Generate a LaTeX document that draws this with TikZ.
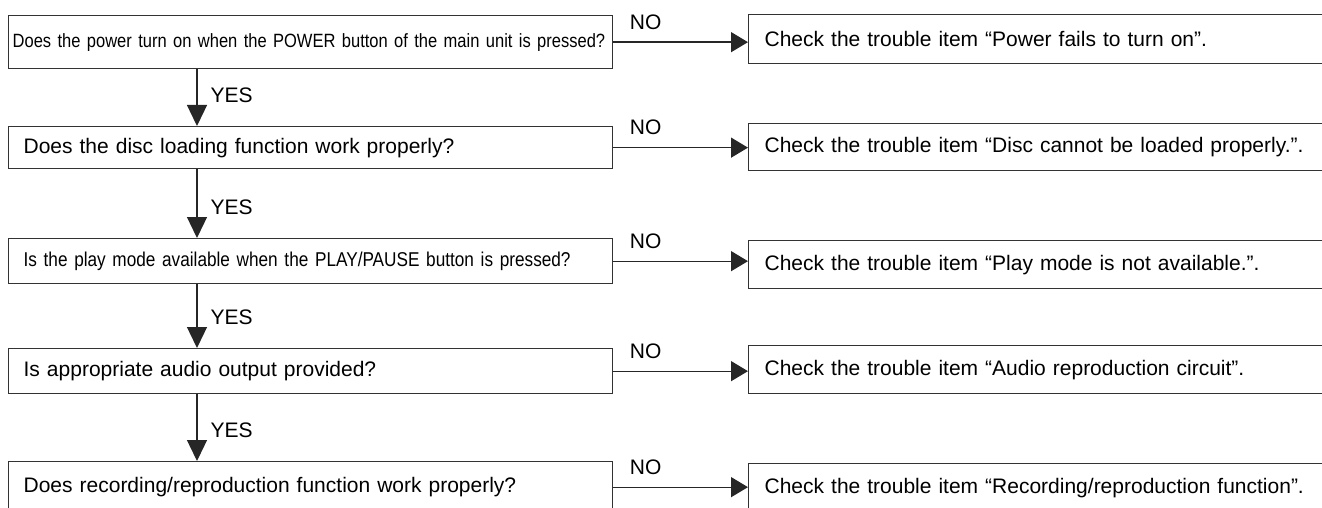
\documentclass[tikz,border=0pt]{standalone}
\usepackage{fontspec}
\setmainfont{Liberation Sans}
\newfontfamily\narrowsans[FakeStretch=0.86]{Liberation Sans}
\usetikzlibrary{arrows.meta}

\begin{document}
\begin{tikzpicture}[x=1pt, y=-1pt, font=\fontsize{21}{25}\selectfont,
    qbox/.style={draw=black!80, line width=1.3pt, anchor=north west,
      inner xsep=15pt, text width=574pt, align=left},
    abox/.style={draw=black!80, line width=1.3pt, anchor=north west,
      inner xsep=16pt, text width=543pt, align=left},
    narrow/.style={font=\narrowsans\fontsize{20}{24}\selectfont},
    flow/.style={draw=black!85, line width=1.3pt, -{Triangle[length=17pt, width=20pt]}},
    down/.style={draw=black!85, line width=1.3pt, -{Triangle[length=21pt, width=20pt]}},
    nolabel/.style={pos=0.24, yshift=20pt, inner sep=0pt},
    yeslabel/.style={pos=1, anchor=west, xshift=13pt, yshift=31pt, inner sep=0pt}]
  \useasboundingbox (0,0) rectangle (1322,508);
  % questions, left column
  \node[qbox, font=\narrowsans\fontsize{19.2}{23}\selectfont, minimum height=53pt,
    inner xsep=4pt, text width=596pt] (q1) at (8,15)
    {Does the power turn on when the POWER button of the main unit is pressed?};
  \node[qbox, minimum height=42pt] (q2) at (8,126) {Does the disc loading function work properly?};
  \node[qbox, narrow, minimum height=45pt] (q3) at (8,238)
    {Is the play mode available when the PLAY/PAUSE button is pressed?};
  \node[qbox, minimum height=45pt] (q4) at (8,348) {Is appropriate audio output provided?};
  \node[qbox, minimum height=51pt] (q5) at (8,461) {Does recording/reproduction function work properly?};
  % trouble items, right column
  \node[abox, minimum height=49pt] (a1) at (748,14) {Check the trouble item “Power fails to turn on”.};
  \node[abox, minimum height=47pt] (a2) at (748,123) {Check the trouble item “Disc cannot be loaded properly.”.};
  \node[abox, minimum height=48pt] (a3) at (748,240) {Check the trouble item “Play mode is not available.”.};
  \node[abox, minimum height=48pt] (a4) at (748,345) {Check the trouble item “Audio reproduction circuit”.};
  \node[abox, minimum height=49pt] (a5) at (748,463) {Check the trouble item “Recording/reproduction function”.};
  % NO branches
  \foreach \i in {1,...,5}
    \draw[flow] (q\i.east) -- (q\i.east -| a\i.west) node[nolabel] (no\i) {NO};
  % YES branches
  \coordinate (spine) at (197,0);
  \foreach \i/\j in {1/2,2/3,3/4,4/5}
    \draw[down] (q\i.south -| spine) -- (q\j.north -| spine) node[yeslabel] (yes\i) {YES};
\end{tikzpicture}
\end{document}
